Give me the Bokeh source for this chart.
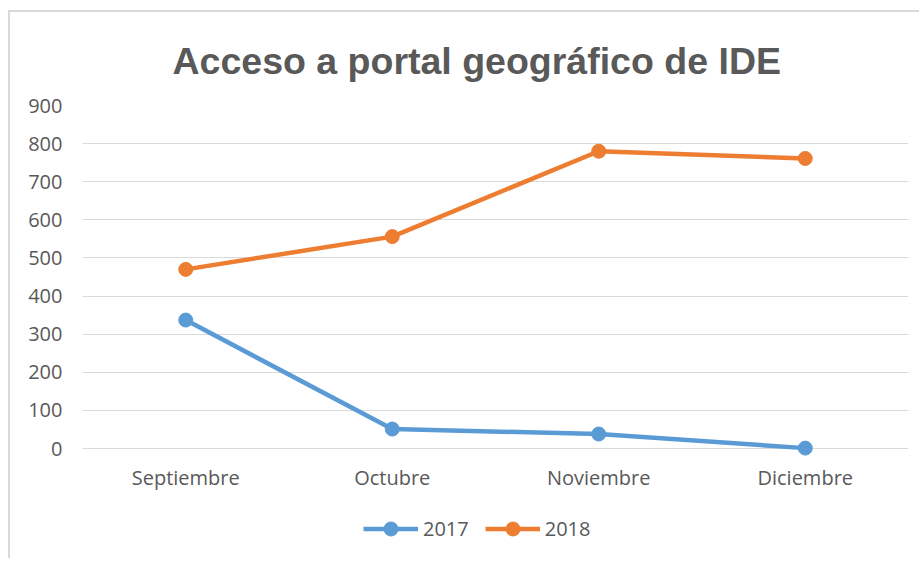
from bokeh.plotting import figure
from bokeh.models import FactorRange, Range1d, Legend, LegendItem, Title, FixedTicker
from bokeh.embed import file_html
from bokeh.resources import INLINE

months = ["Septiembre", "Octubre", "Noviembre", "Diciembre"]
values_2017 = [337, 51, 38, 1]
values_2018 = [470, 556, 780, 761]
y_ticks = [0, 100, 200, 300, 400, 500, 600, 700, 800, 900]

BLUE = "#5B9BD5"
ORANGE = "#ED7D31"
TXT = "#595959"

# canvas origin ends up at (10, 12) because of the css margin + border
p = figure(width=911, height=548, output_backend="svg", toolbar_location=None,
           x_range=FactorRange(*months, range_padding=0),
           y_range=Range1d(-275.5, 900),
           min_border_left=72, min_border_right=13, min_border_top=93, min_border_bottom=7)
p.styles = {"margin-left": "8px", "margin-top": "10px",
            "border-left": "2px solid #d9d9d9", "border-top": "2px solid #d9d9d9"}
p.outline_line_color = None
p.background_fill_color = "white"
p.border_fill_color = "white"

t = Title(text="Acceso a portal geográfico de IDE", align="left", offset=90,
          text_font="Liberation Sans", text_font_size="37.5px", text_font_style="bold",
          text_color=TXT, standoff=48)
p.title = t

l1 = p.line(months, values_2017, line_color=BLUE, line_width=4.5)
s1 = p.scatter(months, values_2017, size=14, fill_color=BLUE, line_color=BLUE)
l2 = p.line(months, values_2018, line_color=ORANGE, line_width=4.5)
s2 = p.scatter(months, values_2018, size=14, fill_color=ORANGE, line_color=ORANGE)

p.yaxis.ticker = FixedTicker(ticks=y_ticks)
p.xaxis.fixed_location = 0
for ax in (p.xaxis[0], p.yaxis[0]):
    ax.axis_line_color = None
    ax.major_tick_line_color = None
    ax.minor_tick_line_color = None
    ax.major_label_text_font = "Open Sans"
    ax.major_label_text_font_size = "20px"
    ax.major_label_text_color = TXT
p.yaxis.major_label_standoff = 14
p.xaxis.major_label_standoff = 9

p.xgrid.grid_line_color = None
p.ygrid.grid_line_color = "#d9d9d9"
p.ygrid.grid_line_width = 1

legend = Legend(items=[LegendItem(label="2017", renderers=[l1, s1]),
                       LegendItem(label="2018", renderers=[l2, s2])],
                orientation="horizontal", location=(281, 7),
                glyph_width=55, glyph_height=35, label_standoff=5, spacing=16,
                label_text_font="Open Sans", label_text_font_size="20px",
                label_text_color=TXT, border_line_color=None, background_fill_alpha=0,
                padding=0, margin=0)
p.add_layout(legend, "center")

open("out.html", "w").write(file_html(p, INLINE))
